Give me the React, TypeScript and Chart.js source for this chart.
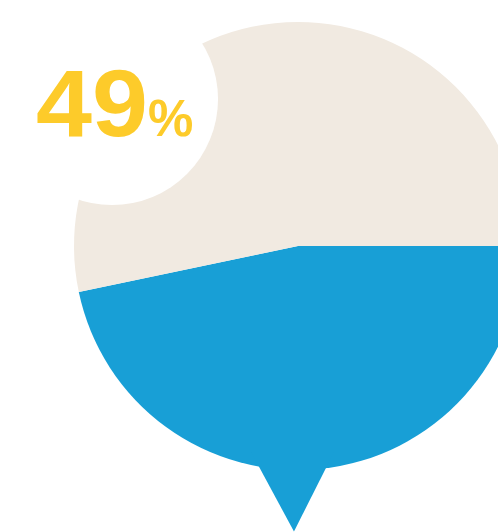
import React, { useEffect, useRef } from "react";
import { Chart, registerables } from "chart.js";

Chart.register(...registerables);

// Data
const categories: string[] = ["Yes", "No"];
const sliceValues: number[] = [46.7, 53.3];
const sliceColors: string[] = ["#189FD6", "#F1EAE1"];
const headlineNumber = "49";
const headlineUnit = "%";
const accentColor = "#FDCB2A";

const bubblePlugin = {
  id: "bubbleDecor",
  afterDatasetsDraw(chart: any) {
    const meta = chart.getDatasetMeta(0);
    const arc = meta.data[0];
    if (!arc) return;
    const { x: cx, y: cy, outerRadius: r } = arc.getProps(["x", "y", "outerRadius"], true);
    const ctx: CanvasRenderingContext2D = chart.ctx;
    ctx.save();
    // speech-bubble pointer
    ctx.fillStyle = sliceColors[0];
    ctx.beginPath();
    ctx.moveTo(cx - 0.212 * r, cy + 0.915 * r);
    ctx.lineTo(cx + 0.163 * r, cy + 0.915 * r);
    ctx.lineTo(cx - 0.018 * r, cy + 1.275 * r);
    ctx.closePath();
    ctx.fill();
    // white cut-out circle
    const wx = cx - 0.83 * r;
    const wy = cy - 0.656 * r;
    const wr = 0.473 * r;
    ctx.fillStyle = "#ffffff";
    ctx.beginPath();
    ctx.arc(wx, wy, wr, 0, Math.PI * 2);
    ctx.fill();
    // headline text
    ctx.fillStyle = accentColor;
    ctx.textBaseline = "alphabetic";
    ctx.textAlign = "left";
    const baseY = wy + 37;
    const tx = wx - 76;
    const sx = 1.07;
    ctx.font = "bold 94px 'Liberation Sans', Arial, sans-serif";
    const w = ctx.measureText(headlineNumber).width * sx;
    ctx.save();
    ctx.translate(tx, baseY);
    ctx.scale(sx, 1);
    ctx.fillText(headlineNumber, 0, 0);
    ctx.restore();
    ctx.font = "bold 51px 'Liberation Sans', Arial, sans-serif";
    ctx.fillText(headlineUnit, tx + w, baseY);
    ctx.restore();
  },
};

export default function App() {
  const ref = useRef<HTMLCanvasElement | null>(null);
  useEffect(() => {
    document.body.style.margin = "0";
    const canvas = ref.current;
    if (!canvas) return;
    const chart = new Chart(canvas, {
      type: "pie",
      data: {
        labels: categories,
        datasets: [
          {
            data: sliceValues,
            backgroundColor: sliceColors,
            borderWidth: 0,
            hoverOffset: 0,
            offset: 0,
          },
        ],
      },
      options: {
        responsive: false,
        animation: false,
        devicePixelRatio: 1,
        rotation: 90,
        layout: { padding: { left: 74, top: 22, right: 78, bottom: 62 } },
        plugins: {
          legend: { display: false },
          tooltip: { enabled: false },
        },
        events: [],
      },
      plugins: [bubblePlugin],
    });
    return () => chart.destroy();
  }, []);
  return (
    <div style={{ position: "fixed", left: 0, top: 0, width: 498, height: 532, overflow: "hidden", background: "#fff" }}>
      <canvas ref={ref} width={600} height={532} style={{ width: 600, height: 532, display: "block" }} />
    </div>
  );
}
